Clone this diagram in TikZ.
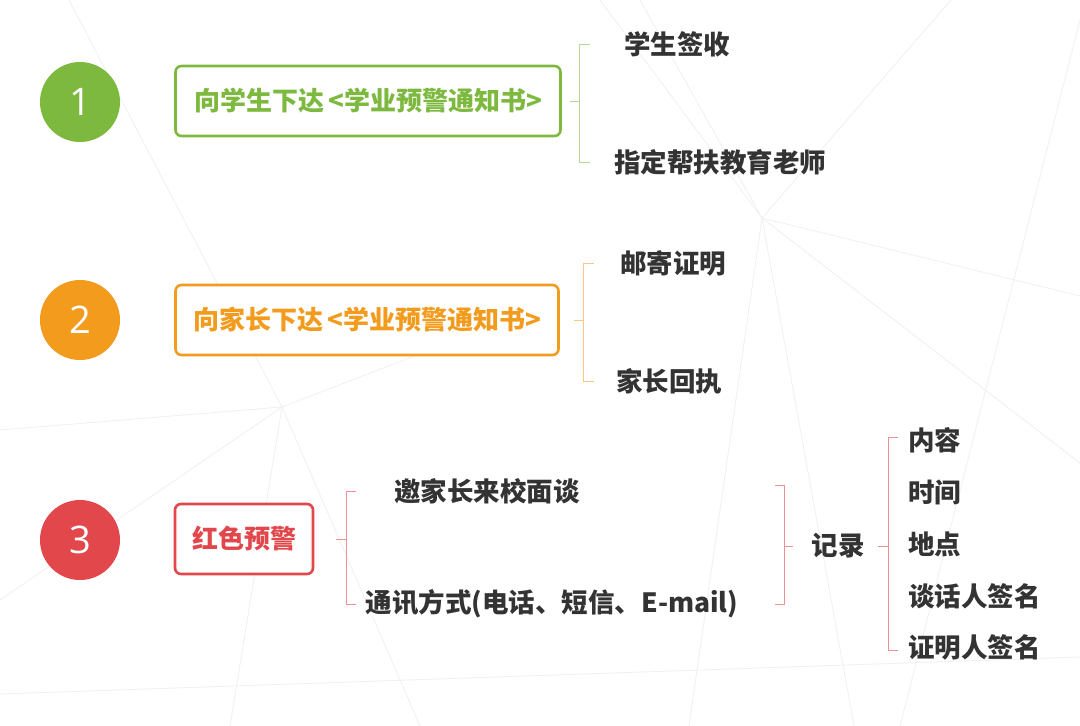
\documentclass[tikz,border=0pt]{standalone}
\usepackage{fontspec}
\usepackage{xcolor}
\usetikzlibrary{calc,positioning}
\setmainfont{Noto Sans CJK SC}
\newfontfamily\numfont{Open Sans}

\definecolor{lvse}{HTML}{7DB93F}
\definecolor{chengse}{HTML}{F29B1D}
\definecolor{hongse}{HTML}{E2474C}
\definecolor{wenzi}{HTML}{333333}

\tikzset{
  numdot/.style={circle,fill=#1,minimum size=80,inner sep=0,text=white,
    font=\numfont\fontsize{38}{38}\selectfont},
  headbox/.style={draw=#1,line width=2.6,rounded corners=6,fill=white,
    minimum height=70,text=#1,font=\bfseries\fontsize{26}{30}\selectfont},
  itemtext/.style={text=wenzi,inner sep=0,font=\bfseries\fontsize{26.5}{30}\selectfont},
  brk/.style={draw=#1,line width=0.8},
  bgline/.style={draw=gray!12,line width=0.8}
}

\begin{document}
\begin{tikzpicture}[x=1pt,y=-1pt]
  \useasboundingbox (0,0) rectangle (1080,726);
  \fill[white] (0,0) rectangle (1080,726);

  % faint background lines
  \coordinate (hub) at (762,218);
  \coordinate (hubb) at (282,407);
  \foreach \ex/\ey in {640/0,951/0,1080/296,1080/463,854/726,689/726,600/0}
    \draw[bgline] (hub) -- (\ex,\ey);
  \foreach \ex/\ey in {69/0,0/430,0/600,230/726,420/726,560/300}
    \draw[bgline] (hubb) -- (\ex,\ey);
  \draw[bgline] (0,694) -- (1080,657);
  \draw[bgline] (1080,20) -- (900,726);

  % left column: numbers and heading boxes
  \node[numdot=lvse]    (n1) at (80,102) {1};
  \node[numdot=chengse] (n2) at (80,320) {2};
  \node[numdot=hongse]  (n3) at (80,540) {3};

  \node[headbox=lvse,minimum width=385]    (box1) at (368,101) {向学生下达\,<学业预警通知书>};
  \node[headbox=chengse,minimum width=383] (box2) at (367,320) {向家长下达\,<学业预警通知书>};
  \node[headbox=hongse,minimum width=138]  (box3) at (244,539) {红色预警};

  % items
  \node[itemtext] (s1a) at (677,44)  {学生签收};
  \node[itemtext] (s1b) at (720,162) {指定帮扶教育老师};
  \node[itemtext] (s2a) at (673,263) {邮寄证明};
  \node[itemtext] (s2b) at (669,381) {家长回执};
  \node[itemtext] (s3a) at (487,491) {邀家长来校面谈};
  \node[itemtext] (s3b) at (552,604) {通讯方式(电话、短信、E-mail)};
  \node[itemtext] (rec) at (838,546) {记录};
  \node[itemtext,anchor=west] (r1) at (908,440) {内容};
  \node[itemtext,anchor=west] (r2) at (908,492) {时间};
  \node[itemtext,anchor=west] (r3) at (908,544) {地点};
  \node[itemtext,anchor=west] (r4) at (908,596) {谈话人签名};
  \node[itemtext,anchor=west] (r5) at (908,647) {证明人签名};

  % brackets
  \coordinate (k1) at ($(box1.east)+(18,0)$);
  \draw[brk=lvse!55] ($(k1 |- s1a)+(10,0)$) -- (k1 |- s1a) -- (k1 |- s1b) -- ++(10,0);
  \draw[brk=lvse!55] ($(box1.east)+(8,0)$) -- (k1);

  \coordinate (k2) at ($(box2.east)+(24,0)$);
  \draw[brk=chengse!55] ($(k2 |- s2a)+(10,0)$) -- (k2 |- s2a) -- (k2 |- s2b) -- ++(10,0);
  \draw[brk=chengse!55] ($(box2.east)+(14,0)$) -- (k2);

  \coordinate (k3) at ($(box3.east)+(32,0)$);
  \draw[brk=hongse!60] ($(k3 |- s3a)+(10,0)$) -- (k3 |- s3a) -- (k3 |- s3b) -- ++(10,0);
  \draw[brk=hongse!60] ($(box3.east)+(22,0)$) -- (k3);

  \coordinate (k4) at (784,546);
  \draw[brk=hongse!60] ($(k4 |- s3a)+(-9,-6)$) -- ($(k4 |- s3a)+(0,-6)$) -- (k4 |- s3b) -- ++(-9,0);
  \draw[brk=hongse!60] (k4) -- ++(9,0);

  \coordinate (k5) at (888,546);
  \draw[brk=hongse!60] ($(k5 |- r1)+(10,-3)$) -- ($(k5 |- r1)+(0,-3)$) -- ($(k5 |- r5)+(0,3)$) -- ++(10,0);
  \draw[brk=hongse!60] ($(k5)+(-10,0)$) -- (k5);
\end{tikzpicture}
\end{document}
